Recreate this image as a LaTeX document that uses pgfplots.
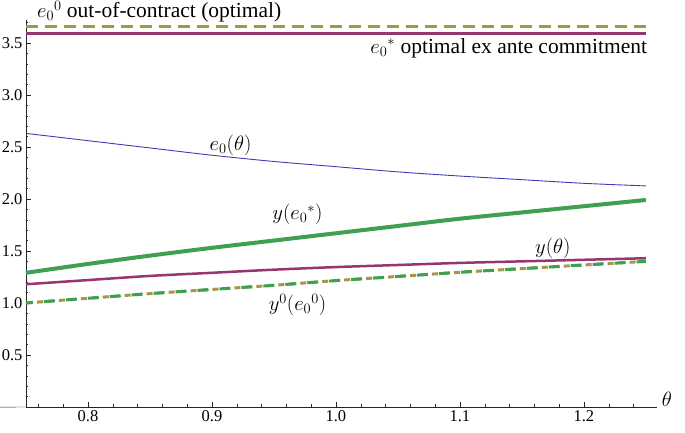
\documentclass[border=0pt]{standalone}
\usepackage{fontspec}
\setmainfont{Liberation Serif}
\usepackage{pgfplots}
\pgfplotsset{compat=1.18}
\definecolor{mmpurple}{RGB}{152,52,110}
\definecolor{mmgreen}{RGB}{62,160,80}
\definecolor{mmolive}{RGB}{168,150,72}
\definecolor{mmblue}{RGB}{60,60,180}
\tikzset{lbl/.style={font=\fontsize{21.5}{23}\selectfont, inner sep=1pt}}
\begin{document}
\begin{tikzpicture}
\path[use as bounding box] (0,0) rectangle (685pt,433pt);
\begin{axis}[
  at={(26pt,26pt)}, anchor=south west,
  scale only axis, width=631pt, height=387pt,
  xmin=0.75, xmax=1.259, ymin=0, ymax=3.72,
  axis lines=left, axis line style={-, black!85},
  tick align=inside, tick style={black!85},
  xtick={0.8,0.9,1.0,1.1,1.2},
  ytick={0.5,1.0,1.5,2.0,2.5,3.0,3.5},
  minor xtick={0.76,0.78,0.82,0.84,0.86,0.88,0.92,0.94,0.96,0.98,1.02,1.04,1.06,1.08,1.12,1.14,1.16,1.18,1.22,1.24},
  minor ytick={0.1,0.2,0.3,0.4,0.6,0.7,0.8,0.9,1.1,1.2,1.3,1.4,1.6,1.7,1.8,1.9,2.1,2.2,2.3,2.4,2.6,2.7,2.8,2.9,3.1,3.2,3.3,3.4,3.6,3.7},
  major tick length=5pt, minor tick length=2.5pt,
  tick label style={font=\fontsize{16.5}{18}\selectfont},
  /pgf/number format/assume math mode=true,
  /pgf/number format/fixed, /pgf/number format/fixed zerofill,
  /pgf/number format/precision=1,
  clip=false,
]
% e0 out-of-contract (optimal)
\addplot[mmolive, line width=3pt, dash pattern=on 12pt off 7pt] coordinates {(0.75,3.66) (1.25,3.66)};
% e0* optimal ex ante commitment
\addplot[mmpurple, line width=2.5pt] coordinates {(0.75,3.59) (1.25,3.59)};
% e0(theta)
\addplot[mmblue, line width=0.9pt, smooth] coordinates {
  (0.75,2.63) (0.80,2.56) (0.85,2.49) (0.90,2.42) (0.95,2.36) (1.00,2.31)
  (1.05,2.26) (1.10,2.22) (1.15,2.185) (1.20,2.15) (1.25,2.125)};
% y(e0*)
\addplot[mmgreen, line width=4pt, smooth] coordinates {
  (0.75,1.29) (0.80,1.375) (0.85,1.455) (0.90,1.53) (0.95,1.60) (1.00,1.67)
  (1.05,1.74) (1.10,1.81) (1.15,1.87) (1.20,1.93) (1.25,1.99)};
% y(theta)
\addplot[mmpurple, line width=2.5pt, smooth] coordinates {
  (0.75,1.18) (0.80,1.22) (0.85,1.26) (0.90,1.29) (0.95,1.32) (1.00,1.345)
  (1.05,1.365) (1.10,1.385) (1.15,1.40) (1.20,1.415) (1.25,1.43)};
% y0(e0^0): two overlapping dashed curves
\addplot[mmolive, line width=3pt, smooth, dash pattern=on 6pt off 5pt] coordinates {
  (0.75,1.00) (0.80,1.045) (0.85,1.09) (0.90,1.13) (0.95,1.17) (1.00,1.215)
  (1.05,1.255) (1.10,1.295) (1.15,1.33) (1.20,1.365) (1.25,1.40)};
\addplot[mmgreen, line width=3pt, smooth, dash pattern=on 11pt off 11pt, dash phase=4pt] coordinates {
  (0.75,1.00) (0.80,1.045) (0.85,1.09) (0.90,1.13) (0.95,1.17) (1.00,1.215)
  (1.05,1.255) (1.10,1.295) (1.15,1.33) (1.20,1.365) (1.25,1.40)};
% small stub of the vertical axis below the horizontal one
\draw[black!85] (axis cs:0.75,0) -- ++(0,-5pt);
% labels
\node[lbl, anchor=west] at (axis cs:0.758,3.80) {$e_0{}^0$ out-of-contract (optimal)};
\node[lbl, anchor=east] at (axis cs:1.252,3.45) {$e_0{}^*$ optimal ex ante commitment};
\node[lbl] at (axis cs:0.915,2.52) {$e_0(\theta)$};
\node[lbl] at (axis cs:0.969,1.85) {$y(e_0{}^*)$};
\node[lbl] at (axis cs:1.175,1.53) {$y(\theta)$};
\node[lbl] at (axis cs:0.969,0.98) {$y^0(e_0{}^0)$};
\node[lbl, anchor=west, font=\fontsize{22}{24}\selectfont] at (axis cs:1.262,0.07) {$\theta$};
\end{axis}
\end{tikzpicture}
\end{document}
